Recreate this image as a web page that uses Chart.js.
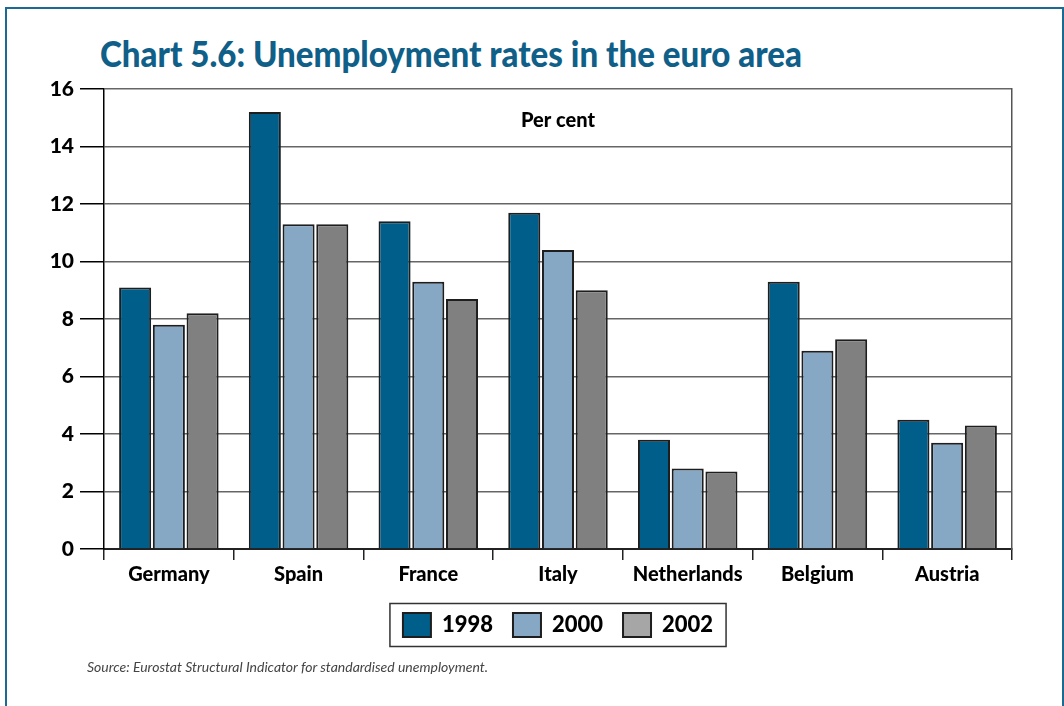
<!DOCTYPE html>
<html>
<head>
<meta charset="utf-8">
<title>Unemployment rates in the euro area</title>
<script src="https://cdn.jsdelivr.net/npm/chart.js@4.4.1/dist/chart.umd.min.js"></script>
<style>
  body { margin: 0; background: #fff; }
  #wrap { position: relative; width: 1064px; height: 706px; overflow: hidden; }
  #frame { position: absolute; left: 5px; top: 7px; width: 1059px; height: 740px;
           box-sizing: border-box; border: 2px solid #1b6a94; }
  #title { position: absolute; left: 100px; top: 35px; font-family: Lato, sans-serif;
           font-weight: 900; font-size: 36px; line-height: 1; color: #0f5f88;
           white-space: nowrap; transform-origin: left top; }
  #source { position: absolute; left: 87px; top: 660px; font-family: Lato, sans-serif;
            font-style: italic; font-size: 14px; line-height: 1; color: #444;
            white-space: nowrap; }
  #chart_box { position: absolute; left: 0; top: 0; width: 1064px; height: 706px; }
</style>
</head>
<body>
<div id="wrap">
  <div id="frame"></div>
  <div id="title">Chart 5.6: Unemployment rates in the euro area</div>
  <div id="chart_box"><canvas id="barChart" width="1064" height="706"></canvas></div>
  <div id="source">Source: Eurostat Structural Indicator for standardised unemployment.</div>
</div>
<script>
var countries = ["Germany", "Spain", "France", "Italy", "Netherlands", "Belgium", "Austria"];
var years = ["1998", "2000", "2002"];
var rate1998 = [9.1, 15.2, 11.4, 11.7, 3.8, 9.3, 4.5];
var rate2000 = [7.8, 11.3, 9.3, 10.4, 2.8, 6.9, 3.7];
var rate2002 = [8.2, 11.3, 8.7, 9.0, 2.7, 7.3, 4.3];
var yMin = 0, yMax = 16, yStep = 2;

var barColors = ["#005e8a", "#87a8c4", "#808080"];
var legendColors = ["#005e8a", "#87a8c4", "#a6a6a6"];
var heavy = { family: "Lato", weight: 900 };

function fitWidth(id, width) {
  var el = document.getElementById(id);
  el.style.transform = "scaleX(" + (width / el.getBoundingClientRect().width) + ")";
}
fitWidth("title", 702);

// "Per cent" note inside the plot, and a box round the legend
var extras = {
  id: "extras",
  afterDraw: function (chart) {
    var ctx = chart.ctx;
    var area = chart.chartArea;
    ctx.save();
    ctx.font = "900 20px Lato";
    ctx.fillStyle = "#000";
    ctx.textAlign = "center";
    ctx.textBaseline = "middle";
    ctx.fillText("Per cent", (area.left + area.right) / 2, area.top + 32);

    var boxes = chart.legend.legendHitBoxes;
    if (boxes && boxes.length) {
      var first = boxes[0], last = boxes[boxes.length - 1];
      var mid = first.top + first.height / 2;
      ctx.strokeStyle = "#333";
      ctx.lineWidth = 1.5;
      ctx.strokeRect(first.left - 13, mid - 21.5, last.left + last.width - first.left + 26, 43);
    }
    ctx.restore();
  }
};

var ctxB = document.getElementById("barChart").getContext("2d");
var myBarChart = new Chart(ctxB, {
  type: "bar",
  data: {
    labels: countries,
    datasets: [
      { label: years[0], data: rate1998, backgroundColor: barColors[0] },
      { label: years[1], data: rate2000, backgroundColor: barColors[1] },
      { label: years[2], data: rate2002, backgroundColor: barColors[2] }
    ]
  },
  options: {
    responsive: false,
    animation: false,
    layout: { padding: { top: 89, left: 0, right: 52, bottom: 59 } },
    datasets: {
      bar: {
        borderColor: "#1e1e1e",
        borderWidth: 2,
        barPercentage: 0.95,
        categoryPercentage: 0.78
      }
    },
    scales: {
      x: {
        afterFit: function (s) { s.height = 44; },
        grid: { drawOnChartArea: false, tickLength: 11, color: "#222", lineWidth: 1.5 },
        border: { color: "#222", width: 2 },
        ticks: { color: "#000", padding: 3, font: { family: heavy.family, weight: heavy.weight, size: 20 } }
      },
      y: {
        min: yMin,
        max: yMax,
        afterFit: function (s) { s.width = 104; },
        grid: { color: "#666", lineWidth: 1.5, tickLength: 24, tickColor: "#000" },
        border: { color: "#000", width: 1.5 },
        ticks: { stepSize: yStep, color: "#000", padding: 6, font: { family: heavy.family, weight: heavy.weight, size: 21 } }
      },
      // right-hand frame line of the plot
      y2: {
        position: "right",
        min: yMin,
        max: yMax,
        afterFit: function (s) { s.width = 0; },
        grid: { drawOnChartArea: false, drawTicks: false },
        border: { color: "#555", width: 1.5 },
        ticks: { display: false }
      }
    },
    plugins: {
      tooltip: { enabled: false },
      legend: {
        position: "bottom",
        fullSize: false,
        labels: {
          boxWidth: 28,
          boxHeight: 24,
          padding: 20,
          color: "#000",
          font: { family: heavy.family, weight: heavy.weight, size: 22 },
          generateLabels: function (chart) {
            var items = Chart.defaults.plugins.legend.labels.generateLabels(chart);
            items.forEach(function (item, i) { item.fillStyle = legendColors[i]; });
            return items;
          }
        }
      }
    }
  },
  plugins: [extras]
});
</script>
</body>
</html>
